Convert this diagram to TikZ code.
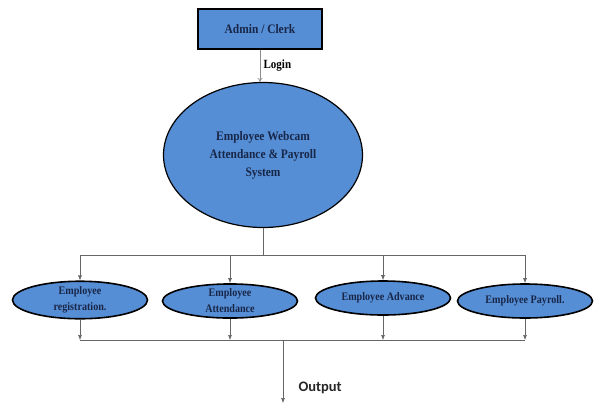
\documentclass[tikz,border=0pt]{standalone}
\usepackage{fontspec}
\newfontfamily\timesfont{Liberation Serif}[FakeStretch=0.88]
\newfontfamily\outfont{Carlito}
\usetikzlibrary{shapes.geometric, arrows.meta}
\definecolor{boxblue}{RGB}{85,142,213}
\definecolor{textnavy}{RGB}{24,38,72}
\begin{document}
\begin{tikzpicture}[x=1pt,y=-1pt]

		\tikzstyle{actor} = [rectangle, draw, line width=1.5pt, fill=boxblue, text=textnavy, font=\timesfont\bfseries\fontsize{13}{15}\selectfont, minimum width=124pt, minimum height=40pt]
		
		\tikzstyle{system} = [ellipse, draw, line width=1.2pt, fill=boxblue, text=textnavy, align=center, inner sep=0pt, font=\timesfont\bfseries\fontsize{13}{18}\selectfont, minimum width=199pt, minimum height=145pt]
		
		\tikzstyle{module} = [ellipse, draw, line width=1.6pt, fill=boxblue, text=textnavy, align=center, inner sep=0pt, font=\timesfont\bfseries\fontsize{11.5}{16}\selectfont, minimum width=135pt, minimum height=34pt]
		
		\tikzstyle{links} = [-{Latex[length=5pt,width=4pt]}, black!60, line width=0.6pt]
		
		\tikzstyle{lines} = [black!60, line width=0.6pt]
		
		\useasboundingbox (0,0) rectangle (597,405);
		
		\node[actor] at (260, 29) (admin) {Admin / Clerk};
		
		\node[system] at (263, 155) (webcam) {Employee Webcam\\Attendance \& Payroll\\System};
		
		\node[module] at (80, 300) (registration) {Employee\\registration.};
		\node[module] at (230, 301) (attendance) {Employee\\Attendance};
		\node[module] at (383, 298) (advance) {Employee Advance};
		\node[module] at (525, 301) (payroll) {Employee Payroll.};
		
		\coordinate (split) at (263, 255);
		\coordinate (merge) at (283, 340);
		\coordinate (result) at (283, 403);
		
		\node[anchor=west, font=\outfont\bfseries\fontsize{14.5}{17}\selectfont, text=black!85] at (295, 388) (output) {Output};
		
		\draw[-{To[length=4pt,width=5pt]}, black!45, line width=0.6pt] (admin.south) -- node[right, text=black, font=\timesfont\bfseries\fontsize{12.5}{14}\selectfont] {Login} (admin.south |- webcam.north);
		
		\draw[lines] (webcam) -- (split);
		\draw[lines] (registration |- split) -- (payroll |- split);
		
		\draw[links] (registration |- split) -- (registration);
		\draw[links] (attendance |- split) -- (attendance);
		\draw[links] (advance |- split) -- (advance);
		\draw[links] (payroll |- split) -- (payroll);
		
		\draw[lines] (registration |- merge) -- (payroll |- merge);
		
		\draw[links] (registration) -- (registration |- merge);
		\draw[links] (attendance) -- (attendance |- merge);
		\draw[links] (advance) -- (advance |- merge);
		\draw[links] (payroll) -- (payroll |- merge);
		
		\draw[links] (merge) -- (result);
	\end{tikzpicture}
\end{document}
